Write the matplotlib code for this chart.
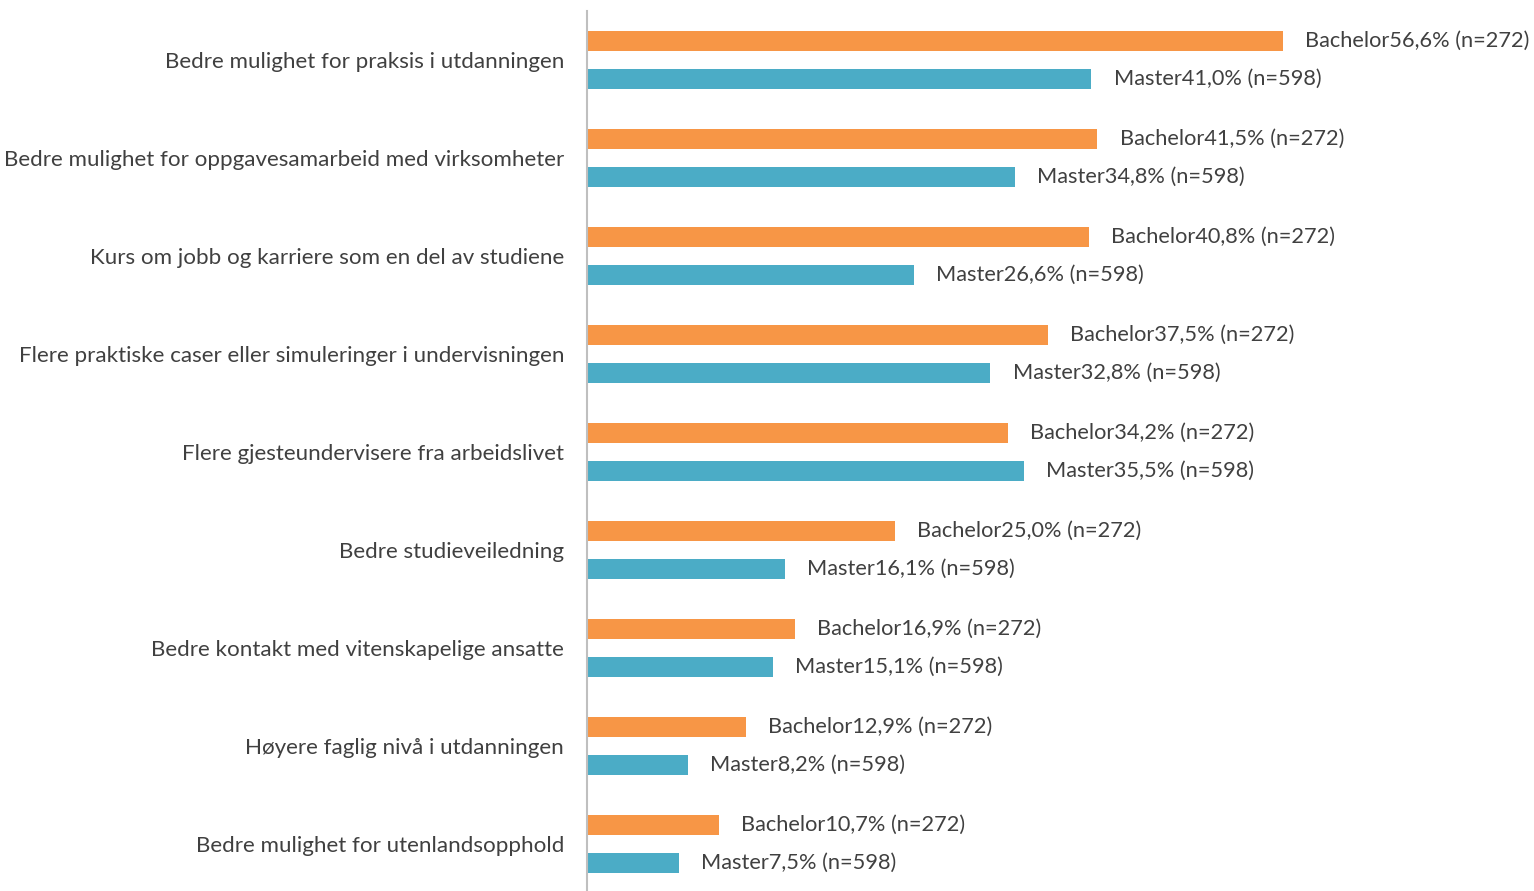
import matplotlib
matplotlib.use('Agg')
import matplotlib.pyplot as plt
import numpy as np

categories = [
    'Bedre mulighet for praksis i utdanningen',
    'Bedre mulighet for oppgavesamarbeid med virksomheter',
    'Kurs om jobb og karriere som en del av studiene',
    'Flere praktiske caser eller simuleringer i undervisningen',
    'Flere gjesteundervisere fra arbeidslivet',
    'Bedre studieveiledning',
    'Bedre kontakt med vitenskapelige ansatte',
    'Høyere faglig nivå i utdanningen',
    'Bedre mulighet for utenlandsopphold',
]
bachelor = [56.6, 41.5, 40.8, 37.5, 34.2, 25.0, 16.9, 12.9, 10.7]
master = [41.0, 34.8, 26.6, 32.8, 35.5, 16.1, 15.1, 8.2, 7.5]
n_bachelor = 272
n_master = 598

plt.rcParams['font.family'] = ['Lato', 'DejaVu Sans']
text_color = '#404040'

fig = plt.figure(figsize=(15.34, 8.91), dpi=100)
ax = fig.add_axes([587 / 1534, -2 / 891, 1 - 587 / 1534, 1 - 9 / 891])

y = np.arange(len(categories))
off = 0.194
h = 0.205
ax.barh(y - off, bachelor, height=h, color='#F79646')
ax.barh(y + off, master, height=h, color='#4BACC6')

for yi, b, m in zip(y, bachelor, master):
    ax.annotate(f'Bachelor{b:.1f}% (n={n_bachelor})'.replace('.', ','),
                xy=(b, yi - off), xytext=(16, 0), textcoords='offset points',
                va='center', ha='left', fontsize=15.7, color=text_color,
                annotation_clip=False)
    ax.annotate(f'Master{m:.1f}% (n={n_master})'.replace('.', ','),
                xy=(m, yi + off), xytext=(16, 0), textcoords='offset points',
                va='center', ha='left', fontsize=15.7, color=text_color,
                annotation_clip=False)

ax.set_xlim(0, (1534 - 587) / 12.3)
ax.set_ylim(len(categories) - 0.5, -0.5)
ax.set_yticks(y)
ax.set_yticklabels(categories, fontsize=16.1, color=text_color)
ax.tick_params(axis='y', length=0, pad=16.5)
ax.set_xticks([])
for s in ('top', 'right', 'bottom'):
    ax.spines[s].set_visible(False)
ax.spines['left'].set_color('#BFBFBF')
ax.spines['left'].set_linewidth(1.5)

fig.savefig('out.png', dpi=100)
